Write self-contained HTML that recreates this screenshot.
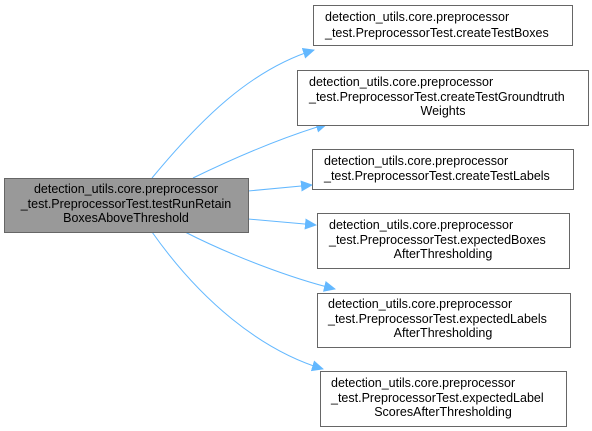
<!DOCTYPE html>
<html><head><meta charset="utf-8"><style>
html,body{margin:0;padding:0;background:#fff;}
svg{display:block;}
text{font-family:"Liberation Sans",Arial,sans-serif;font-size:12.5px;fill:#000;}
</style></head><body>
<svg width="592" height="431" viewBox="0 0 592 431" xmlns="http://www.w3.org/2000/svg">
<defs><marker id="a" markerWidth="12" markerHeight="12" refX="11" refY="6" orient="auto" markerUnits="userSpaceOnUse"><path d="M0,0.5 L12,6 L0,11.5 z" fill="#63b8ff"/></marker></defs>
<g fill="none" stroke="#63b8ff" stroke-width="1" marker-end="url(#a)">
<path d="M152,178 C200,120 250,70 314,50"/>
<path d="M193,178 C230,160 280,138 327,124"/>
<path d="M248,191 L312,185"/>
<path d="M248,219 L316,225"/>
<path d="M185,232 C230,255 290,278 335,289"/>
<path d="M152,232 C200,300 260,350 323,369"/>
</g>
<rect x="4.5" y="178.5" width="244" height="54" fill="#999" stroke="#666"/>
<text x="126" y="193" text-anchor="middle">detection_utils.core.preprocessor</text>
<text x="126" y="208" text-anchor="middle">_test.PreprocessorTest.testRunRetain</text>
<text x="126" y="222" text-anchor="middle">BoxesAboveThreshold</text>
<g fill="#fff" stroke="#666">
<rect x="313.5" y="5.5" width="259" height="40"/>
<rect x="297.5" y="70.5" width="291" height="55"/>
<rect x="312.5" y="149.5" width="261" height="40"/>
<rect x="317.5" y="213.5" width="252" height="55"/>
<rect x="317.5" y="293.5" width="253" height="54"/>
<rect x="320.5" y="371.5" width="246" height="55"/>
</g>
<text x="325" y="21">detection_utils.core.preprocessor</text>
<text x="325" y="37">_test.PreprocessorTest.createTestBoxes</text>
<text x="309" y="86">detection_utils.core.preprocessor</text>
<text x="309" y="101">_test.PreprocessorTest.createTestGroundtruth</text>
<text x="443" y="115" text-anchor="middle">Weights</text>
<text x="324" y="165">detection_utils.core.preprocessor</text>
<text x="324" y="180">_test.PreprocessorTest.createTestLabels</text>
<text x="329" y="229">detection_utils.core.preprocessor</text>
<text x="329" y="244">_test.PreprocessorTest.expectedBoxes</text>
<text x="443" y="258" text-anchor="middle">AfterThresholding</text>
<text x="328" y="308">detection_utils.core.preprocessor</text>
<text x="328" y="323">_test.PreprocessorTest.expectedLabels</text>
<text x="443" y="337" text-anchor="middle">AfterThresholding</text>
<text x="331" y="387">detection_utils.core.preprocessor</text>
<text x="331" y="402">_test.PreprocessorTest.expectedLabel</text>
<text x="443" y="416" text-anchor="middle">ScoresAfterThresholding</text>
</svg>
</body></html>
